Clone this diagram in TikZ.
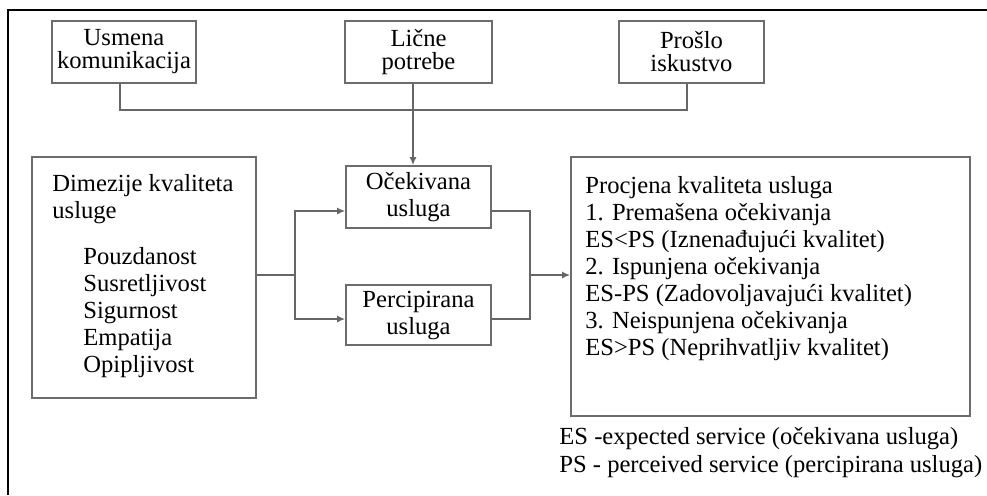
\documentclass[tikz,border=0pt]{standalone}
\usepackage{fontspec}
\setmainfont{Liberation Serif}
\usetikzlibrary{arrows.meta}

\begin{document}
\begin{tikzpicture}[x=0.5pt, y=-0.5pt, font=\fontsize{12.3}{13.5}\selectfont,
  box/.style={draw=gray!85!black, line width=0.8pt, inner sep=0pt, align=center},
  topbox/.style={box, minimum height=31pt, font=\fontsize{12.3}{11.5}\selectfont},
  wire/.style={draw=gray!80!black, line width=0.8pt},
  arr/.style={wire, -{Latex[length=4pt, width=3.5pt]}},
  txt/.style={anchor=base west, inner sep=0pt, align=left}]

\useasboundingbox (0,0) rectangle (987,495);
\draw[line width=0.9pt] (8,495) -- (8,10) -- (987,10);

\node[topbox, minimum width=72pt] (usmena) at (124,52) {Usmena\\komunikacija};
\node[topbox, minimum width=73.5pt] (licne) at (418.5,52) {Lične\\potrebe};
\node[topbox, minimum width=72.5pt] (proslo) at (691.5,52) {Prošlo\\iskustvo};

\node[box, minimum width=112pt, minimum height=120.5pt] (dim) at (144,277.5) {};
\node[txt] (dimtitle) at (52,218) {Dimezije kvaliteta\\usluge};
\node[txt] (dimlist) at (83,372) {Pouzdanost\\Susretljivost\\Sigurnost\\Empatija\\Opipljivost};

\node[box, minimum width=72.5pt, minimum height=31pt] (oce) at (418.5,197) {Očekivana\\usluga};
\node[box, minimum width=72.5pt, minimum height=30pt] (perc) at (418.5,315) {Percipirana\\usluga};

\node[box, minimum width=199.5pt, minimum height=129.5pt] (proc) at (770.5,286.5) {};
\node[txt] (proctxt) at (585,355) {Procjena kvaliteta usluga\\1. Premašena očekivanja\\ES<PS (Iznenađujući kvalitet)\\2. Ispunjena očekivanja\\ES-PS (Zadovoljavajući kvalitet)\\3. Neispunjena očekivanja\\ES>PS (Neprihvatljiv kvalitet)};

\node[txt] (leges) at (559,444) {ES -expected service (očekivana usluga)};
\node[txt] (legps) at (559,472) {PS - perceived service (percipirana usluga)};

\coordinate (hub) at (413,110);
\coordinate (split) at (295,275);
\coordinate (join) at (530,275);

\draw[wire] ([xshift=-2pt]usmena.south) |- (hub) -| ([xshift=-2.25pt]proslo.south);
\draw[arr] ([xshift=-2.75pt]licne.south) -- ([xshift=-2.75pt]oce.north);

\draw[wire] (split -| dim.east) -- (split);
\draw[arr] (split) |- ([yshift=-7pt]oce.west);
\draw[arr] (split) |- ([yshift=-2pt]perc.west);

\draw[wire] ([yshift=-7pt]oce.east) -| (join);
\draw[wire] ([yshift=-2pt]perc.east) -| (join);
\draw[arr] (join) -- (join -| proc.west);

\end{tikzpicture}
\end{document}
